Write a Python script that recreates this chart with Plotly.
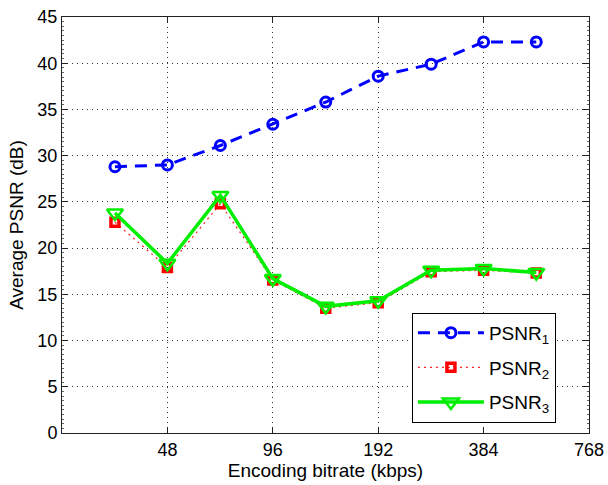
import plotly.graph_objects as go
import math

bitrate = [34, 48, 68, 96, 136, 192, 272, 384, 543]
psnr1 = [28.8, 29.0, 31.1, 33.4, 35.8, 38.6, 39.9, 42.3, 42.3]
psnr2 = [22.8, 17.9, 24.8, 16.55, 13.5, 14.1, 17.45, 17.6, 17.3]
psnr3 = [23.8, 18.35, 25.7, 16.7, 13.7, 14.3, 17.6, 17.8, 17.35]
xticks = [48, 96, 192, 384, 768]
yticks = [0, 5, 10, 15, 20, 25, 30, 35, 40, 45]

FONT = "Liberation Sans, Arial, sans-serif"

fig = go.Figure()
fig.add_trace(go.Scatter(
    x=bitrate, y=psnr1, name="PSNR<sub>1</sub>", mode="lines+markers", legendgroup="a",
    line=dict(color="#0000ff", width=3, dash="12px,8px"),
    marker=dict(symbol="circle-open", size=10, color="#0000ff", line=dict(width=3, color="#0000ff")),
))
fig.add_trace(go.Scatter(
    x=bitrate, y=psnr2, name="PSNR<sub>2</sub>", mode="lines+markers", legendgroup="b",
    line=dict(color="#ff2020", width=1.2, dash="2px,4px"),
    marker=dict(symbol="square-open", size=8, color="#ff0000", line=dict(width=3.5, color="#ff0000")),
))
fig.add_trace(go.Scatter(
    x=bitrate, y=psnr3, name="PSNR<sub>3</sub>", mode="lines+markers", legendgroup="c",
    line=dict(color="#00ee00", width=3.5),
    marker=dict(symbol="triangle-down-open", size=14, color="#00ee00", line=dict(width=2.5, color="#00ee00")),
))

axis_common = dict(
    showline=True, linecolor="#222222", linewidth=1, mirror="ticks",
    ticks="inside", ticklen=6, tickcolor="#222222",
    showgrid=True, gridcolor="#333333", griddash="1px,4px", gridwidth=1,
    zeroline=False, tickfont=dict(family=FONT, size=18, color="#000000"),
)

fig.update_xaxes(
    type="log", range=[math.log10(24), math.log10(768)],
    tickvals=xticks, ticktext=[str(v) for v in xticks],
    title=dict(text="Encoding bitrate (kbps)", font=dict(family=FONT, size=19, color="#000000"), standoff=2),
    automargin=False,
    **axis_common,
)
fig.update_yaxes(
    range=[0, 45], tickvals=yticks,
    title=dict(text="Average PSNR (dB)", font=dict(family=FONT, size=19, color="#000000"), standoff=8),
    minor=dict(ticks="inside", ticklen=2, dtick=0.5, tickcolor="#666666"),
    automargin=False,
    **axis_common,
)

fig.update_layout(
    width=608, height=485,
    margin=dict(l=62, r=19, t=17, b=52),
    plot_bgcolor="white", paper_bgcolor="white",
    font=dict(family=FONT, size=18, color="#000000"),
    legend=dict(
        x=0.664, y=0.289, xanchor="left", yanchor="top",
        bordercolor="#000000", borderwidth=1, bgcolor="white",
        font=dict(family=FONT, size=19, color="#000000"),
        itemwidth=66, tracegroupgap=7,
        entrywidth=160, entrywidthmode="pixels",
    ),
)

fig.write_html("out.html")
